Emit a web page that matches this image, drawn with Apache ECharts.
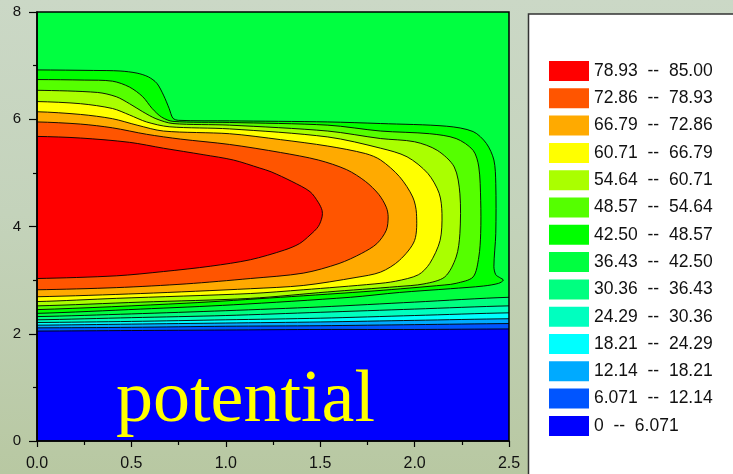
<!DOCTYPE html>
<html>
<head>
<meta charset="utf-8">
<script src="https://cdn.jsdelivr.net/npm/echarts@6/dist/echarts.min.js"></script>
<style>
html,body{margin:0;padding:0;width:733px;height:474px;overflow:hidden;
background:linear-gradient(180deg,#cbd8c6 0%,#c4d3bb 45%,#b8c8a2 100%);}
#c{width:733px;height:474px;}
</style>
</head>
<body>
<div id="c"></div>
<script>
// ---- level boundaries and band colours ----
const levelText = ['0','6.071','12.14','18.21','24.29','30.36','36.43','42.50','48.57','54.64','60.71','66.79','72.86','78.93','85.00'];
const bandColors = ['#0000ff','#0055ff','#00aaff','#00ffff','#00ffbf','#00ff80','#00ff40','#00ff00','#55ff00','#aaff00','#ffff00','#ffaa00','#ff5500','#ff0000'];
const xTickLabels = ['0.0','0.5','1.0','1.5','2.0','2.5'];
const yTickLabels = ['0','2','4','6','8'];

// ---- contour lines (x, y) ----
const domain = [[0,0],[2.5,0],[2.5,8],[0,8]];
const c6_071 = [[0,2.05],[0.5,2.06],[1.0,2.07],[1.5,2.08],[2.0,2.08],[2.5,2.09]];
const c12_14 = [[0,2.11],[0.5,2.12],[1.0,2.14],[1.5,2.15],[2.0,2.17],[2.5,2.19]];
const c18_21 = [[0,2.16],[0.5,2.18],[1.0,2.20],[1.5,2.22],[2.0,2.25],[2.5,2.28]];
const c24_29 = [[0,2.21],[0.5,2.23],[1.0,2.26],[1.5,2.29],[2.0,2.34],[2.5,2.39]];
const c30_36 = [[0,2.26],[0.5,2.30],[1.0,2.34],[1.5,2.40],[2.0,2.46],[2.5,2.52]];
const c36_43 = [[0,2.32],[0.5,2.37],[1.0,2.43],[1.5,2.50],[2.0,2.59],[2.5,2.68]];
const c42_50 = [[0,6.92],[0.30,6.91],[0.44,6.90],[0.53,6.86],[0.59,6.79],[0.635,6.67],[0.67,6.45],[0.70,6.20],[0.72,6.02],[0.75,5.98],[1.02,5.97],[1.54,5.95],[1.82,5.92],[2.17,5.87],[2.31,5.77],[2.38,5.55],[2.42,5.24],[2.43,4.80],[2.43,3.87],[2.42,3.25],[2.43,3.10],[2.45,3.05],[2.47,3.00],[2.445,2.94],[2.365,2.89],[2.19,2.84],[1.92,2.77],[1.66,2.68],[1.04,2.54],[0.55,2.46],[0,2.38]];
const c48_57 = [[0,6.74],[0.25,6.73],[0.40,6.71],[0.49,6.60],[0.56,6.42],[0.61,6.20],[0.66,6.04],[0.72,5.96],[1.02,5.94],[1.54,5.89],[1.82,5.78],[2.08,5.73],[2.22,5.64],[2.31,5.42],[2.34,5.11],[2.35,4.49],[2.35,3.87],[2.34,3.43],[2.31,3.06],[2.22,2.94],[2.16,2.91],[1.79,2.80],[1.29,2.68],[0.79,2.57],[0,2.45]];
const c54_64 = [[0,6.54],[0.32,6.50],[0.42,6.42],[0.49,6.29],[0.56,6.14],[0.63,6.01],[0.72,5.92],[1.02,5.89],[1.54,5.78],[1.82,5.64],[2.00,5.58],[2.12,5.42],[2.21,5.11],[2.24,4.61],[2.24,3.87],[2.22,3.43],[2.16,3.06],[2.05,2.93],[1.91,2.88],[1.54,2.78],[1.13,2.66],[0.55,2.59],[0,2.52]];
const c60_71 = [[0,6.33],[0.23,6.29],[0.40,6.20],[0.49,6.08],[0.58,5.95],[0.70,5.86],[1.02,5.82],[1.54,5.67],[1.82,5.46],[1.96,5.30],[2.07,4.99],[2.13,4.62],[2.145,4.24],[2.135,3.74],[2.08,3.31],[2.02,3.10],[1.90,2.98],[1.79,2.93],[1.41,2.82],[1.13,2.75],[0.42,2.66],[0,2.60]];
const c66_79 = [[0,6.14],[0.23,6.09],[0.40,6.01],[0.53,5.89],[0.67,5.78],[1.02,5.73],[1.29,5.62],[1.54,5.50],[1.74,5.36],[1.82,5.24],[1.92,4.93],[1.99,4.55],[2.01,4.24],[2.00,3.74],[1.92,3.37],[1.82,3.15],[1.69,3.05],[1.41,2.90],[1.13,2.84],[0.55,2.75],[0,2.69]];
const c72_86 = [[0,5.95],[0.23,5.91],[0.40,5.84],[0.58,5.72],[0.76,5.63],[1.02,5.53],[1.29,5.38],[1.49,5.24],[1.64,5.06],[1.74,4.84],[1.81,4.60],[1.85,4.36],[1.86,4.18],[1.85,3.93],[1.80,3.68],[1.72,3.50],[1.60,3.31],[1.41,3.13],[1.13,3.03],[0.79,2.93],[0.42,2.86],[0,2.82]];
const c78_93 = [[0,5.68],[0.23,5.65],[0.49,5.57],[0.67,5.46],[0.88,5.34],[1.04,5.24],[1.18,5.09],[1.24,5.02],[1.35,4.84],[1.446,4.65],[1.49,4.45],[1.51,4.30],[1.51,4.18],[1.49,4.00],[1.446,3.84],[1.39,3.68],[1.31,3.56],[1.13,3.38],[0.92,3.26],[0.67,3.16],[0.42,3.08],[0,3.03]];

const bandBoundaries = [domain,c6_071,c12_14,c18_21,c24_29,c30_36,c36_43,c42_50,c48_57,c54_64,c60_71,c66_79,c72_86,c78_93];
const bandKinds = ['domain','open','open','open','open','open','open','lobe','lobe','lobe','lobe','lobe','lobe','lobe'];
const bandNames = bandColors.map((c,i)=>levelText[i]+'  --  '+levelText[i+1]);

function makeRender(points, kind, color){
  return function(params, api){
    if (params.dataIndex !== 0) return null;
    let path;
    if (kind === 'domain') path = points;
    else if (kind === 'open') path = [[-0.3,points[0][1]]].concat(points,[[2.8,points[points.length-1][1]],[2.8,8.6],[-0.3,8.6]]);
    else path = [[-0.3,points[0][1]]].concat(points,[[-0.3,points[points.length-1][1]]]);
    return {
      type:'polygon',
      shape:{points:path.map(p=>api.coord(p)), smooth: kind==='domain'?0:0.3},
      style:{fill:color, stroke: kind==='domain'?null:'#000', lineWidth:0.9}
    };
  };
}

const series = bandBoundaries.map((pts,i)=>({
  type:'custom', name:bandNames[i], coordinateSystem:'cartesian2d', clip:true,
  itemStyle:{color:bandColors[i]},
  renderItem: makeRender(pts, bandKinds[i], bandColors[i]),
  data: pts, encode:{x:0,y:1}, silent:true, animation:false, z:2
}));

const chart = echarts.init(document.getElementById('c'), null, {renderer:'canvas'});
chart.setOption({
  backgroundColor:'transparent',
  animation:false,
  grid:{left:37, right:224, top:12, bottom:33, show:true, borderColor:'#000', borderWidth:1.5, backgroundColor:'transparent', z:10},
  xAxis:{type:'value', min:0, max:2.5, interval:0.5, z:10,
    axisLine:{lineStyle:{color:'#000', width:1.5}},
    axisTick:{length:6, lineStyle:{color:'#000', width:1.2}},
    minorTick:{show:true, splitNumber:2, length:4, lineStyle:{color:'#000', width:1.2}},
    splitLine:{show:false},
    axisLabel:{color:'#111', fontSize:16, fontFamily:'Liberation Sans', margin:15,
      formatter:(v)=>xTickLabels[Math.round(v/0.5)]}},
  yAxis:{type:'value', min:0, max:8, interval:2, z:10,
    axisLine:{lineStyle:{color:'#000', width:1.5}},
    axisTick:{length:8, lineStyle:{color:'#000', width:1.2}},
    minorTick:{show:true, splitNumber:2, length:4, lineStyle:{color:'#000', width:1.2}},
    splitLine:{show:false},
    axisLabel:{color:'#111', fontSize:15, fontFamily:'Liberation Sans', margin:16,
      formatter:(v)=>yTickLabels[Math.round(v/2)]}},
  legend:{orient:'vertical', left:549, top:61, padding:0, icon:'rect', itemWidth:40, itemHeight:20, itemGap:7.3,
    selectedMode:false, z:20,
    data: bandNames.slice().reverse(),
    textStyle:{color:'#111', fontSize:17.5, fontFamily:'Liberation Sans'}},
  graphic:[
    {type:'rect', z:1, shape:{x:528.5, y:14, width:230, height:480},
      style:{fill:'#ffffff', stroke:'#333333', lineWidth:1.5}},
    {type:'text', z:100, x:245.5, y:402,
      style:{text:'potential', fill:'#ffff00', font:'74px "Liberation Serif"', align:'center', verticalAlign:'middle'}}
  ],
  series: series
});
</script>
</body>
</html>
